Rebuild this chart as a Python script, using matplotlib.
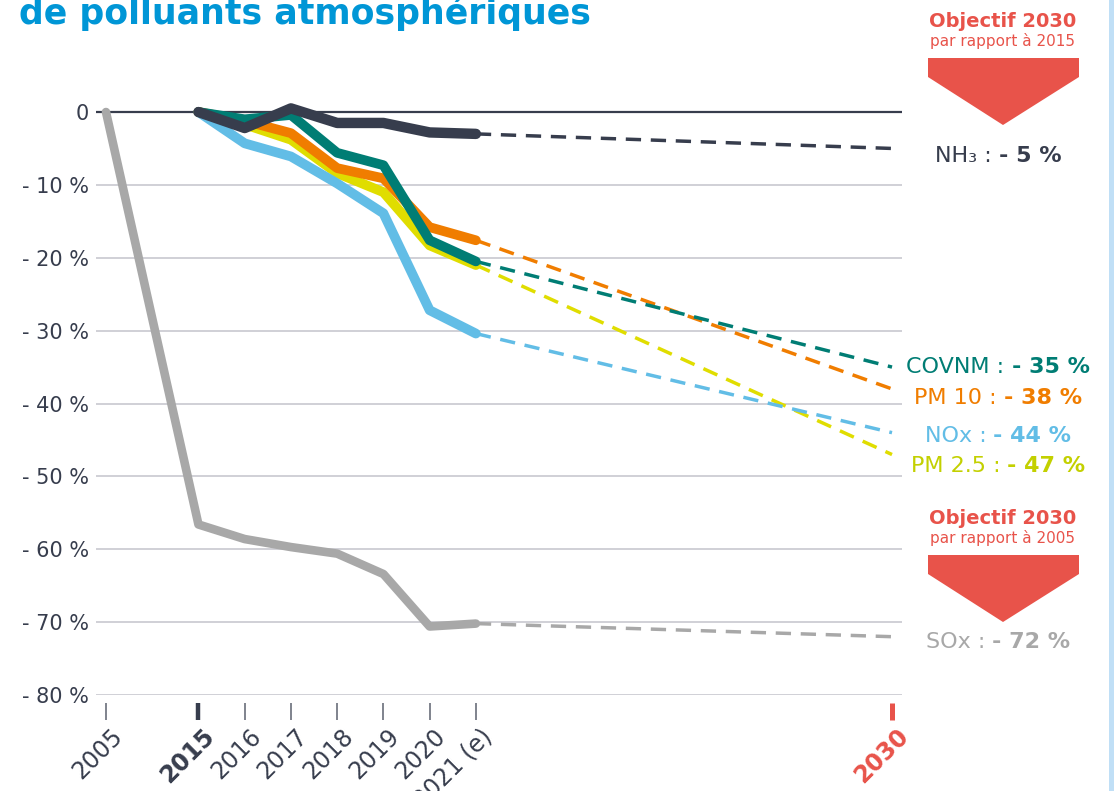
import matplotlib
matplotlib.use("Agg")
import matplotlib.pyplot as plt
import matplotlib.transforms as mtransforms
from matplotlib.patches import Polygon, Rectangle

W, H, DPI = 1114, 791, 100

# x axis: categorical years, placed on a non-linear scale like the original
years = ["2005", "2015", "2016", "2017", "2018", "2019", "2020", "2021 (e)", "2030"]
year_pos = [-2, 0, 1, 2, 3, 4, 5, 6, 15]

# change vs reference year, in %
nh3 = [0, -2.2, 0.5, -1.5, -1.5, -2.8, -3.0]
covnm = [0, -1.0, -0.4, -5.6, -7.3, -17.6, -20.5]
pm10 = [0, -1.2, -2.9, -7.7, -9.1, -15.8, -17.6]
pm25 = [0, -1.7, -3.8, -8.4, -11.0, -18.3, -21.0]
nox = [0, -4.3, -6.1, -9.8, -13.9, -27.2, -30.4]
sox = [0, -56.6, -58.6, -59.7, -60.6, -63.4, -70.6, -70.2]

# 2030 objectives
target_nh3 = -5
target_covnm = -35
target_pm10 = -38
target_nox = -44
target_pm25 = -47
target_sox = -72

y_ticks = list(range(-80, 1, 10))
y_labels = [f"- {abs(v)} %" if v else "0" for v in y_ticks]

NAVY = "#373d4d"
TEAL = "#007d74"
ORANGE = "#f07d00"
YELLOW = "#e0dd00"
YELLOW_TXT = "#c3d000"
BLUE = "#62bde6"
GREY = "#a8a8a8"
RED = "#e8534a"
TITLE_BLUE = "#0096d6"

plt.rcParams["font.family"] = ["DejaVu Sans"]


def fx(px):
    return px / W


def fy(py):
    return 1 - py / H


fig = plt.figure(figsize=(W / DPI, H / DPI), dpi=DPI)
fig.patch.set_facecolor("white")
fig.patches.append(Rectangle((fx(1109), 0), fx(5), 1, transform=fig.transFigure,
                             facecolor="#c0dff6", edgecolor="none"))

ax = fig.add_axes([fx(96), fy(695), fx(806), 595 / H])
ax.set_xlim(-2.216, 15.216)
ax.set_ylim(-80, 1.65)
for s in ax.spines.values():
    s.set_visible(False)

ax.set_yticks(y_ticks, y_labels)
ax.tick_params(axis="y", length=0, pad=5, labelsize=15, labelcolor=NAVY)
ax.grid(axis="y", color="#c8c8d0", lw=1.2)
ax.set_axisbelow(True)
ax.axhline(0, color=NAVY, lw=1.6, zorder=1)

# x ticks: labels from the axis, marks drawn below the last gridline
ax.set_xticks(year_pos, years)
ax.tick_params(axis="x", length=0, pad=21, labelsize=17, labelcolor=NAVY)
offset = mtransforms.ScaledTranslation(0.04, 0, fig.dpi_scale_trans)
for lab in ax.get_xticklabels():
    lab.set_rotation(45)
    lab.set_ha("right")
    lab.set_va("top")
    lab.set_rotation_mode("anchor")
    lab.set_transform(lab.get_transform() + offset)
    if lab.get_text() == "2015":
        lab.set_fontweight("bold")
    elif lab.get_text() == "2030":
        lab.set_fontweight("bold")
        lab.set_color(RED)

xt = ax.get_xaxis_transform()
for pos, name in zip(year_pos, years):
    if name == "2015":
        color, lw = NAVY, 3.2
    elif name == "2030":
        color, lw = RED, 3.6
    else:
        color, lw = "#6a6e7a", 1.2
    ax.vlines(pos, -0.0135, -0.042, transform=xt, color=color, lw=lw, clip_on=False)

recent = year_pos[1:8]
series = [
    (sox, year_pos[:8], target_sox, GREY, 6.2),
    (pm25, recent, target_pm25, YELLOW, 7),
    (nox, recent, target_nox, BLUE, 7),
    (pm10, recent, target_pm10, ORANGE, 7),
    (covnm, recent, target_covnm, TEAL, 7),
    (nh3, recent, target_nh3, NAVY, 7.5),
]
for z, (vals, xs, target, color, lw) in enumerate(series):
    ax.plot(xs, vals, color=color, lw=lw, solid_capstyle="round",
            solid_joinstyle="round", zorder=3 + z, clip_on=False)
    ax.plot([xs[-1], year_pos[-1]], [vals[-1], target], color=color, lw=2.5,
            dashes=(4.4, 2.8), dash_capstyle="butt", zorder=2 + z, clip_on=False)

# title (partly cut off at the top, as in the source)
fig.text(fx(19), fy(24), "de polluants atmosphériques", color=TITLE_BLUE,
         fontsize=25, fontweight="bold", va="baseline", ha="left")

# objective banners
for y_top, ref_year in [(58, "2015"), (555, "2005")]:
    fig.text(fx(1003), fy(y_top - 31), "Objectif 2030", color=RED, fontsize=14,
             fontweight="bold", ha="center", va="baseline")
    fig.text(fx(1003), fy(y_top - 12), f"par rapport à {ref_year}", color=RED,
             fontsize=11, ha="center", va="baseline")
    pts = [(928, y_top), (1079, y_top), (1079, y_top + 19), (1003, y_top + 67),
           (928, y_top + 19)]
    fig.patches.append(Polygon([(fx(px), fy(py)) for px, py in pts], closed=True,
                               transform=fig.transFigure, facecolor=RED,
                               edgecolor="none"))

# end labels: regular name + bold value, centred as one line
end_labels = [
    ("NH₃ :", f"- {abs(target_nh3)} %", NAVY, 162),
    ("COVNM :", f"- {abs(target_covnm)} %", TEAL, 373),
    ("PM 10 :", f"- {abs(target_pm10)} %", ORANGE, 404),
    ("NOx :", f"- {abs(target_nox)} %", BLUE, 442),
    ("PM 2.5 :", f"- {abs(target_pm25)} %", YELLOW_TXT, 472),
    ("SOx :", f"- {abs(target_sox)} %", GREY, 648),
]
renderer = fig.canvas.get_renderer()
for name, value, color, base in end_labels:
    t1 = fig.text(0, fy(base), name, color=color, fontsize=16, va="baseline")
    t2 = fig.text(0, fy(base), value, color=color, fontsize=16,
                  fontweight="bold", va="baseline")
    w1 = t1.get_window_extent(renderer).width
    w2 = t2.get_window_extent(renderer).width
    gap = 7
    left = 998 - (w1 + gap + w2) / 2
    t1.set_x(fx(left))
    t2.set_x(fx(left + w1 + gap))

fig.savefig("out.png", dpi=DPI)
